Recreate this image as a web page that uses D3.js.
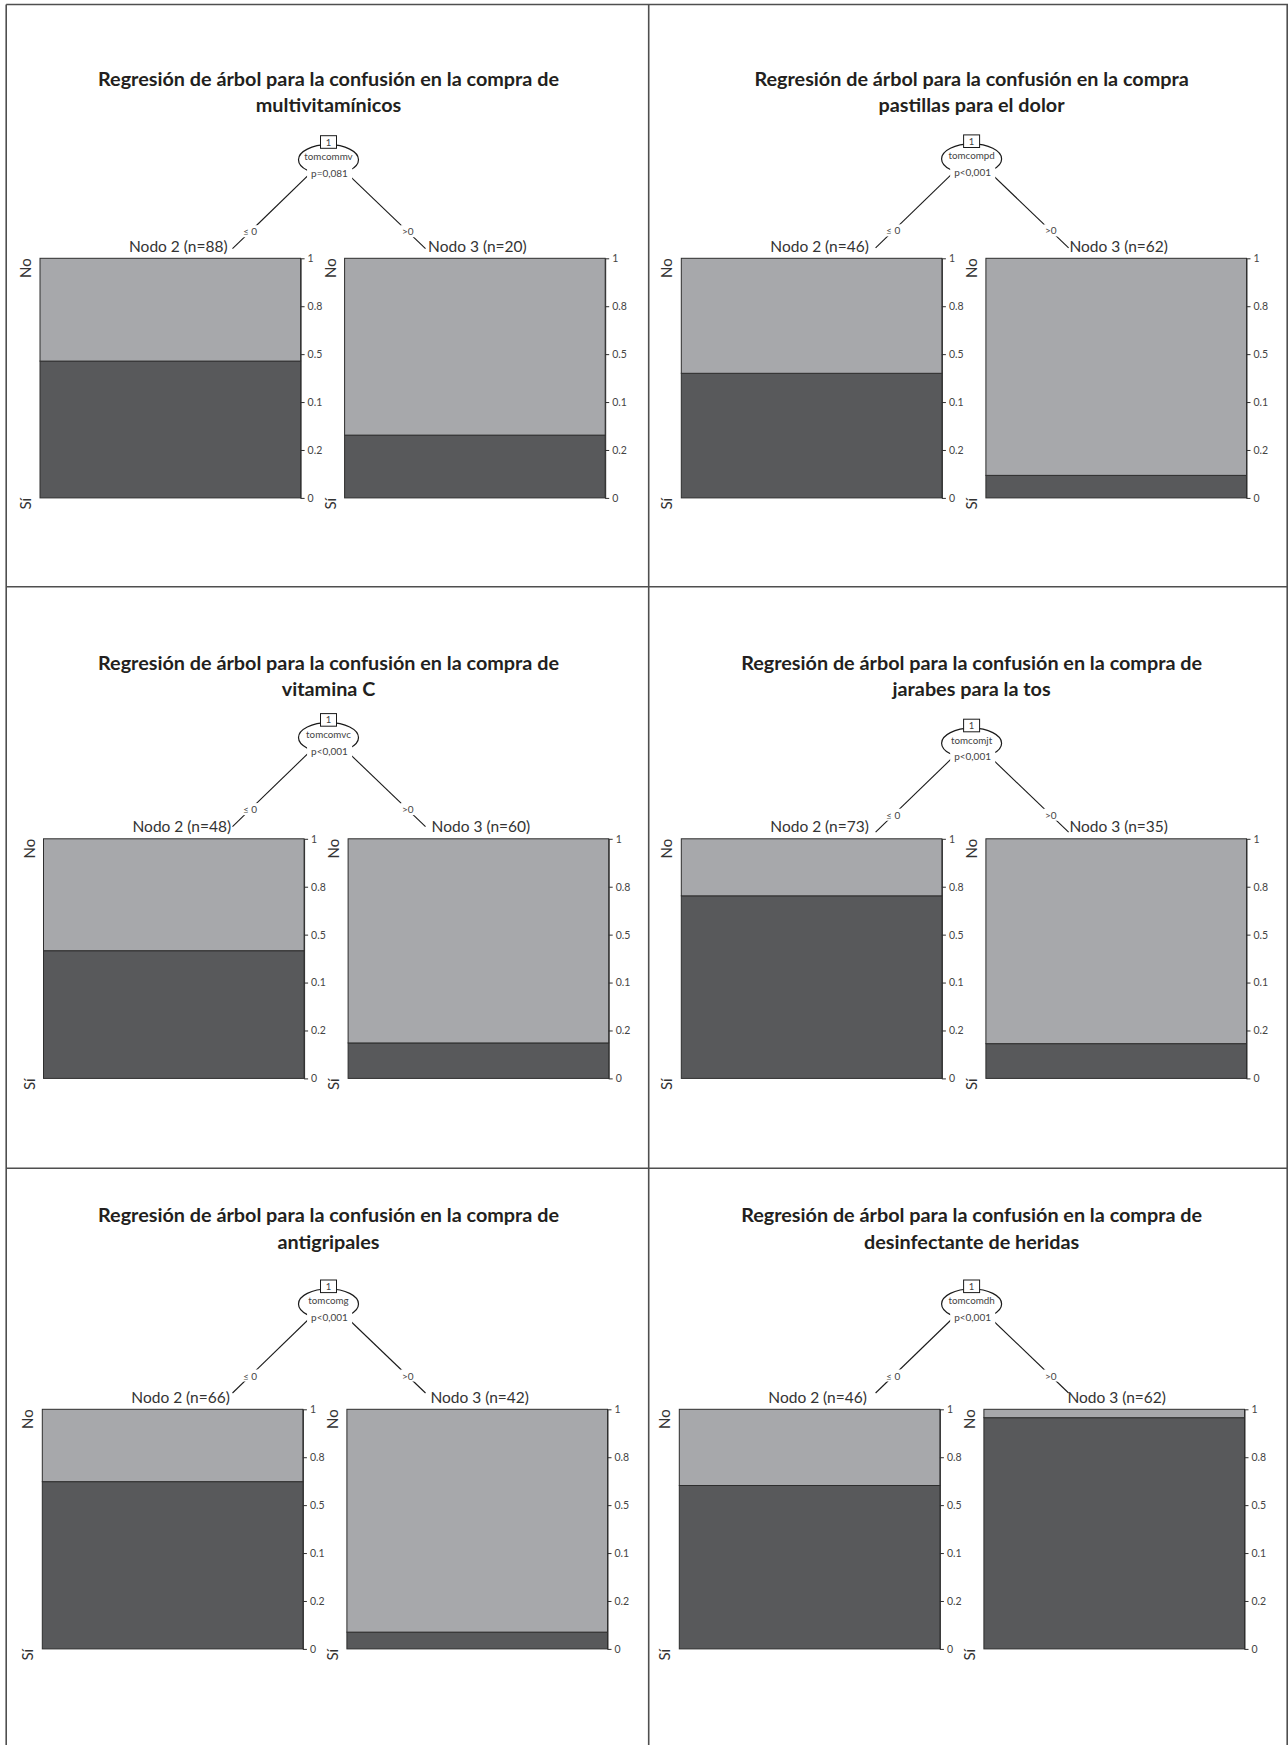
<!DOCTYPE html>
<html>
<head>
<meta charset="utf-8">
<script src="https://cdn.jsdelivr.net/npm/d3@7"></script>
<style>
  body { margin: 0; background: #fff; }
  svg { display: block; }
</style>
</head>
<body>
<svg id="chart" width="1288" height="1745"></svg>
<script>
// ---- Data: six conditional inference trees (one split each) ----
const titleLead = [
  "Regresión de árbol para la confusión en la compra de",
  "Regresión de árbol para la confusión en la compra",
  "Regresión de árbol para la confusión en la compra de",
  "Regresión de árbol para la confusión en la compra de",
  "Regresión de árbol para la confusión en la compra de",
  "Regresión de árbol para la confusión en la compra de"
];
const titleTopic = [
  "multivitamínicos",
  "pastillas para el dolor",
  "vitamina C",
  "jarabes para la tos",
  "antigripales",
  "desinfectante de heridas"
];
const splitVariables = ["tomcommv", "tomcompd", "tomcomvc", "tomcomjt", "tomcomg", "tomcomdh"];
const pLabels = ["p=0,081", "p<0,001", "p<0,001", "p<0,001", "p<0,001", "p<0,001"];
const rootId = "1";
const leafNames = ["Nodo 2", "Nodo 3"];
const leftN = [88, 46, 48, 73, 66, 46];
const rightN = [20, 62, 60, 35, 42, 62];
// share of "Sí" in each terminal node
const leftSiShare = [0.571, 0.52, 0.533, 0.762, 0.698, 0.682];
const rightSiShare = [0.262, 0.094, 0.148, 0.145, 0.07, 0.965];
const edgeLabels = ["\u2264 0", ">0"];
const classLabels = ["No", "Sí"];
const tickValues = [0, 0.2, 0.4, 0.6, 0.8, 1];
const tickLabels = ["0", "0.2", "0.1", "0.5", "0.8", "1"];

// ---- Layout ----
const colCx = [328.5, 971.6];
const colBarLeft = [40, 681.3];
const rowBarTop = [258.3, 838.8, 1409.3];
const panelBoxTop = [135.7, 134.9, 713.6, 719.2, 1280, 1280];
const panelTitleY = [79, 79, 662.8, 662.8, 1215.2, 1215.2];
const panelBarDx = [0, 0, 3.5, 0, 2.3, -2];
const BAR_H = 239.6, BAR_W = 260.6, BAR_GAP = 44;
const FONT = "Lato, 'Open Sans', 'DejaVu Sans', sans-serif";

const colors = { No: "#a7a8ab", "Sí": "#58595b" };

const svg = d3.select("#chart");

// frame grid
const frame = svg.append("g").attr("stroke", "#4f4f4f").attr("stroke-width", 1.6).attr("fill", "none");
const frameLines = [
  [6.2, 4.5, 6.2, 1745], [6.2, 4.5, 1288, 4.5], [648.7, 4.5, 648.7, 1745],
  [6.2, 586.7, 1288, 586.7], [6.2, 1168.2, 1288, 1168.2], [1287.2, 4.5, 1287.2, 1745]
];
frame.selectAll("line").data(frameLines).join("line")
  .attr("x1", d => d[0]).attr("y1", d => d[1]).attr("x2", d => d[2]).attr("y2", d => d[3]);

function whiteBehind(g, textSel, padX, padY) {
  textSel.each(function () {
    const b = this.getBBox();
    g.insert("rect", () => this)
      .attr("x", b.x - padX).attr("y", b.y - padY)
      .attr("width", b.width + 2 * padX).attr("height", b.height + 2 * padY)
      .attr("fill", "#fff");
  });
}

titleTopic.forEach((topic, i) => {
  const col = i % 2, row = Math.floor(i / 2);
  const cx = colCx[col];
  const T = rowBarTop[row];
  const B = panelBoxTop[i];
  const g = svg.append("g").attr("font-family", FONT);

  // title
  const title = g.append("text")
    .attr("x", cx).attr("y", panelTitleY[i])
    .attr("text-anchor", "middle").attr("font-weight", "bold")
    .attr("font-size", 19.8).attr("fill", "#231f20");
  title.append("tspan").attr("x", cx).attr("dy", "0.35em").text(titleLead[i]);
  title.append("tspan").attr("x", cx).attr("dy", 26.5).text(topic);

  // scales
  const x0 = colBarLeft[col] + panelBarDx[i];
  const x = d3.scaleBand().domain(leafNames)
    .range([x0, x0 + 2 * BAR_W + BAR_GAP])
    .paddingInner(BAR_GAP / (BAR_W + BAR_GAP)).paddingOuter(0);
  const y = d3.scaleLinear().domain([0, 1]).range([T + BAR_H, T]);

  // edges from the root to the terminal nodes
  const root = { x: cx, y: B + 20 };
  const leafEnds = [{ x: cx - 96, y: B + 113 }, { x: cx + 97, y: B + 113 }];
  const edges = g.append("g");
  edges.selectAll("line").data(leafEnds).join("line")
    .attr("x1", root.x).attr("y1", root.y)
    .attr("x2", d => d.x).attr("y2", d => d.y)
    .attr("stroke", "#1a1a1a").attr("stroke-width", 1.1);
  const labY = B + 96;
  const t = (labY - root.y) / (leafEnds[0].y - root.y);
  const edgeText = edges.selectAll("text").data(leafEnds).join("text")
    .attr("x", d => root.x + (d.x - root.x) * t)
    .attr("y", labY).attr("dy", "0.35em")
    .attr("text-anchor", "middle").attr("font-size", 10).attr("fill", "#444")
    .text((d, k) => edgeLabels[k]);
  whiteBehind(edges, edgeText, 1.5, 0);

  // inner node
  const node = g.append("g");
  node.append("ellipse").attr("cx", cx).attr("cy", B + 24).attr("rx", 30).attr("ry", 15)
    .attr("fill", "#fff").attr("stroke", "#1a1a1a").attr("stroke-width", 1.2);
  const pText = node.append("text").attr("x", cx + 1).attr("y", B + 37.5).attr("dy", "0.35em")
    .attr("text-anchor", "middle").attr("font-size", 10).attr("fill", "#444").text(pLabels[i]);
  whiteBehind(node, pText, 4, 1);
  node.append("text").attr("x", cx).attr("y", B + 21).attr("dy", "0.35em")
    .attr("text-anchor", "middle").attr("font-size", 9.8).attr("fill", "#444").text(splitVariables[i]);
  node.append("rect").attr("x", cx - 8).attr("y", B).attr("width", 16).attr("height", 12.6)
    .attr("fill", "#fff").attr("stroke", "#1a1a1a").attr("stroke-width", 1);
  node.append("text").attr("x", cx).attr("y", B + 6.5).attr("dy", "0.35em")
    .attr("text-anchor", "middle").attr("font-size", 9.5).attr("fill", "#444").text(rootId);

  // terminal nodes: stacked bars
  const nodes = [
    { name: leafNames[0], n: leftN[i], "Sí": leftSiShare[i], No: 1 - leftSiShare[i], shift: 8 },
    { name: leafNames[1], n: rightN[i], "Sí": rightSiShare[i], No: 1 - rightSiShare[i], shift: 2.5 }
  ];
  const stack = d3.stack().keys(["Sí", "No"]);
  const layers = stack(nodes);
  const barG = g.append("g");
  layers.forEach(layer => {
    barG.selectAll(null).data(layer).join("rect")
      .attr("x", (d, k) => x(nodes[k].name))
      .attr("width", x.bandwidth())
      .attr("y", d => y(d[1]))
      .attr("height", d => y(d[0]) - y(d[1]))
      .attr("fill", colors[layer.key])
      .attr("stroke", "#2e2e2e").attr("stroke-width", 1);
  });

  nodes.forEach(nd => {
    const bx = x(nd.name);
    // axis on the right side of each bar
    const ax = g.append("g")
      .attr("transform", `translate(${bx + x.bandwidth()},0)`)
      .call(d3.axisRight(y).tickValues(tickValues)
        .tickFormat(d => tickLabels[tickValues.indexOf(d)])
        .tickSize(4).tickSizeOuter(0).tickPadding(3));
    ax.select(".domain").attr("stroke", "#2e2e2e");
    ax.selectAll(".tick line").attr("stroke", "#2e2e2e");
    ax.selectAll(".tick text").attr("font-family", FONT).attr("font-size", 10.5).attr("fill", "#444");

    // class labels on the left
    g.append("text").attr("transform", `translate(${bx - 14.2},${y(1)}) rotate(-90)`)
      .attr("dy", "0.35em").attr("text-anchor", "end")
      .attr("font-size", 15).attr("fill", "#333").text(classLabels[0]);
    g.append("text").attr("transform", `translate(${bx - 14.2},${y(0)}) rotate(-90)`)
      .attr("dy", "0.35em").attr("text-anchor", "end")
      .attr("font-size", 15).attr("fill", "#333").text(classLabels[1]);

    // node label
    g.append("text").attr("x", bx + x.bandwidth() / 2 + nd.shift).attr("y", T - 12)
      .attr("dy", "0.35em").attr("text-anchor", "middle")
      .attr("font-size", 15.5).attr("fill", "#333")
      .text(`${nd.name} (n=${nd.n})`);
  });
});
</script>
</body>
</html>
